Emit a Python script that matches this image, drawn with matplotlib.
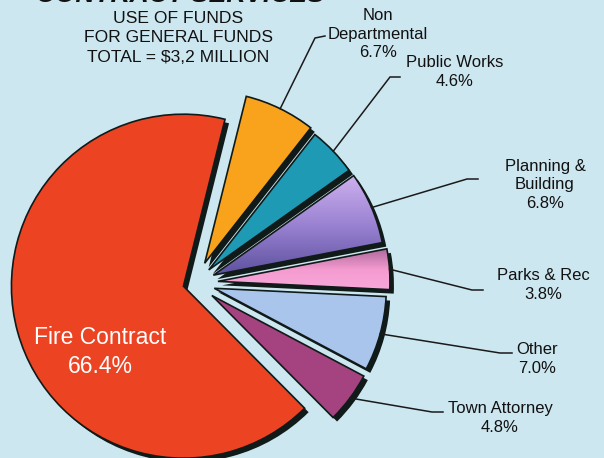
import math
import numpy as np
import matplotlib
matplotlib.use("Agg")
import matplotlib.pyplot as plt
from matplotlib.colors import LinearSegmentedColormap

plt.rcParams['font.family'] = ['Liberation Sans', 'DejaVu Sans']

# data, in drawing order (clockwise from the top)
names = ['Non\nDepartmental', 'Public Works', 'Planning &\nBuilding', 'Parks & Rec',
         'Other', 'Town Attorney', 'Fire Contract']
shares = [6.7, 4.6, 6.8, 3.8, 7.0, 4.8, 66.4]

colors = ['#F9A21C', '#1F9AB4', '#9C86D4', '#F49BD0', '#A9C5EC', '#A4437F', '#EC4323']
explode = [22, 19, 20, 23, 20, 21, 12]

# label layout (pixels, y down): elbow, line end, text centre
elbows = [(315, 38), (390, 77), (467, 179), (472, 290), (500, 353), (432, 412)]
ends = [(325, 36), (400, 77), (478, 179), (483, 290), (512, 353), (443, 412)]
texts = [(378, 34), (455, 72), (545, 185), (543, 285), (537, 359), (500, 418)]

W, H = 604, 458
bg = '#CDE7F0'

fig = plt.figure(figsize=(W / 100, H / 100), dpi=100, facecolor=bg)
ax = fig.add_axes([0, 0, 1, 1])
ax.set_facecolor(bg)

center = (195, H - 283)
radius = 172

# black "3d" edge under each slice
ax.pie(shares, colors=['#101a18'] * len(shares), explode=explode, startangle=76,
       counterclock=False, radius=radius, center=(center[0] + 4, center[1] - 4),
       wedgeprops=dict(linewidth=0), frame=True)
wedges, _ = ax.pie(shares, colors=colors, explode=explode, startangle=76,
                   counterclock=False, radius=radius, center=center,
                   wedgeprops=dict(linewidth=1.2, edgecolor='#101a18'), frame=True)

# shaded fills for the purple and pink slices (top colour first)
shades = {2: ['#CDB0EE', '#9A82D2', '#5E52A0'], 3: ['#B06A9E', '#F49BD0', '#F8A8DA']}
for i, cols in shades.items():
    w = wedges[i]
    bb = w.get_path().get_extents(w.get_patch_transform())
    grad = np.linspace(0, 1, 64).reshape(-1, 1)
    im = ax.imshow(grad, cmap=LinearSegmentedColormap.from_list('s', cols),
                   extent=[bb.x0, bb.x1, bb.y0, bb.y1], origin='upper',
                   aspect='auto', zorder=w.get_zorder() + 0.01)
    im.set_clip_path(w)
    w.set_zorder(w.get_zorder() + 0.02)
    w.set_facecolor('none')

for i, w in enumerate(wedges[:-1]):
    mid = math.radians((w.theta1 + w.theta2) / 2)
    tip = (w.center[0] + w.r * math.cos(mid), w.center[1] + w.r * math.sin(mid))
    ex, ey = elbows[i]
    lx, ly = ends[i]
    ax.plot([tip[0], ex, lx], [tip[1], H - ey, H - ly], color='#1a1a1a', lw=1.1,
            solid_joinstyle='miter')
    pct = f'{shares[i]:.1f}%'
    ax.text(texts[i][0], H - texts[i][1], f'{names[i]}\n{pct}', ha='center',
            va='center', fontsize=12, linespacing=1.26, color='#111111')

# label inside the big slice
ax.text(100, H - 352, f'{names[-1]}\n{shares[-1]:.1f}%', ha='center', va='center',
        fontsize=16.5, color='white', linespacing=1.3)

# titles (the top one is cut by the edge, as in the original)
ax.text(180, H - 2.5, 'CONTRACT SERVICES', ha='center', va='baseline', fontsize=19,
        fontweight='bold', fontstyle='italic', color='#111111')
ax.text(178, H - 38, 'USE OF FUNDS\nFOR GENERAL FUNDS\nTOTAL = $3,2 MILLION',
        ha='center', va='center', fontsize=12.6, linespacing=1.34, color='#111111')

ax.set_xlim(0, W)
ax.set_ylim(0, H)
ax.set_aspect('equal')
ax.axis('off')

fig.savefig('out.png', dpi=100, facecolor=bg)
